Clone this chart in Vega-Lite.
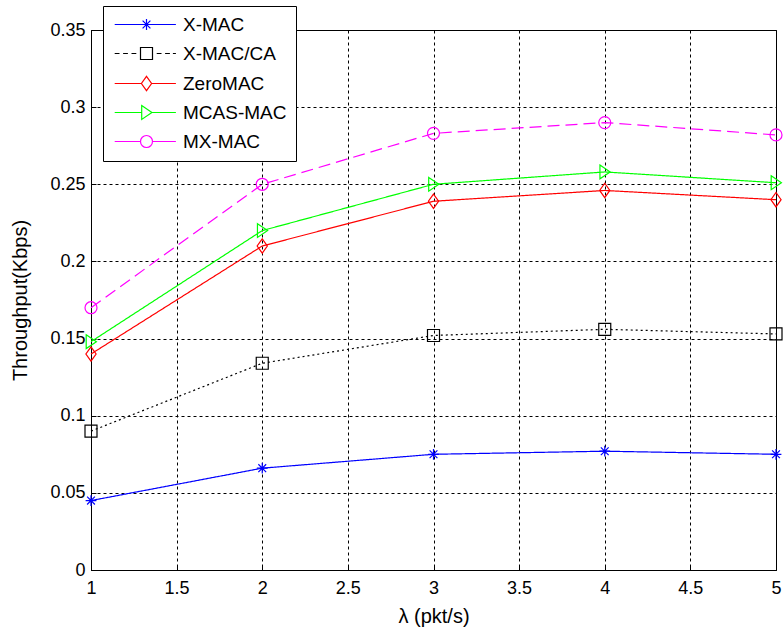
{
  "$schema": "https://vega.github.io/schema/vega-lite/v6.json",
  "width": 685,
  "height": 540,
  "autosize": {"type": "none"},
  "padding": {"left": 91, "top": 30, "right": 8, "bottom": 63},
  "background": "white",
  "config": {
    "font": "Liberation Sans",
    "view": {"stroke": "black", "strokeWidth": 1},
    "axis": {
      "domainColor": "black",
      "tickColor": "black",
      "gridColor": "black",
      "gridDash": [3, 3],
      "gridOpacity": 1,
      "gridWidth": 1,
      "labelFont": "Liberation Sans",
      "labelFontSize": 18,
      "labelColor": "black",
      "titleFont": "Liberation Sans",
      "titleFontSize": 20,
      "titleFontWeight": "normal",
      "titleColor": "black",
      "tickSize": -5
    }
  },
  "data": {
    "values": [
      {"series": "X-MAC", "x": 1, "y": 0.045},
      {"series": "X-MAC", "x": 2, "y": 0.066},
      {"series": "X-MAC", "x": 3, "y": 0.075},
      {"series": "X-MAC", "x": 4, "y": 0.077},
      {"series": "X-MAC", "x": 5, "y": 0.075},
      {"series": "X-MAC/CA", "x": 1, "y": 0.090},
      {"series": "X-MAC/CA", "x": 2, "y": 0.134},
      {"series": "X-MAC/CA", "x": 3, "y": 0.152},
      {"series": "X-MAC/CA", "x": 4, "y": 0.156},
      {"series": "X-MAC/CA", "x": 5, "y": 0.153},
      {"series": "ZeroMAC", "x": 1, "y": 0.140},
      {"series": "ZeroMAC", "x": 2, "y": 0.210},
      {"series": "ZeroMAC", "x": 3, "y": 0.239},
      {"series": "ZeroMAC", "x": 4, "y": 0.246},
      {"series": "ZeroMAC", "x": 5, "y": 0.240},
      {"series": "MCAS-MAC", "x": 1, "y": 0.148},
      {"series": "MCAS-MAC", "x": 2, "y": 0.220},
      {"series": "MCAS-MAC", "x": 3, "y": 0.250},
      {"series": "MCAS-MAC", "x": 4, "y": 0.258},
      {"series": "MCAS-MAC", "x": 5, "y": 0.251},
      {"series": "MX-MAC", "x": 1, "y": 0.170},
      {"series": "MX-MAC", "x": 2, "y": 0.250},
      {"series": "MX-MAC", "x": 3, "y": 0.283},
      {"series": "MX-MAC", "x": 4, "y": 0.290},
      {"series": "MX-MAC", "x": 5, "y": 0.282}
    ]
  },
  "encoding": {
    "x": {
      "field": "x", "type": "quantitative",
      "scale": {"domain": [1, 5], "nice": false, "zero": false},
      "axis": {"values": [1, 1.5, 2, 2.5, 3, 3.5, 4, 4.5, 5], "format": "~g", "title": "λ (pkt/s)", "labelPadding": 14, "titlePadding": 9, "labelFlush": false}
    },
    "y": {
      "field": "y", "type": "quantitative",
      "scale": {"domain": [0, 0.35], "nice": false},
      "axis": {"values": [0, 0.05, 0.1, 0.15, 0.2, 0.25, 0.3, 0.35], "format": "~g", "title": "Throughput(Kbps)", "labelPadding": 11, "titlePadding": 19, "labelFlush": false}
    }
  },
  "layer": [
    {
      "mark": {"type": "line", "strokeWidth": 1.2},
      "encoding": {
        "color": {
          "field": "series", "type": "nominal",
          "scale": {"domain": ["X-MAC", "X-MAC/CA", "ZeroMAC", "MCAS-MAC", "MX-MAC"], "range": ["#0000FF", "#000000", "#FF0000", "#00FF00", "#FF00FF"]},
          "legend": null
        },
        "strokeDash": {
          "field": "series", "type": "nominal",
          "scale": {"domain": ["X-MAC", "X-MAC/CA", "ZeroMAC", "MCAS-MAC", "MX-MAC"], "range": [[1, 0], [2, 3], [1, 0], [1, 0], [12, 6]]},
          "legend": null
        }
      }
    },
    {
      "mark": {"type": "point", "filled": false, "size": 144, "strokeWidth": 1.2, "opacity": 1},
      "encoding": {
        "color": {
          "field": "series", "type": "nominal",
          "scale": {"domain": ["X-MAC", "X-MAC/CA", "ZeroMAC", "MCAS-MAC", "MX-MAC"], "range": ["#0000FF", "#000000", "#FF0000", "#00FF00", "#FF00FF"]},
          "legend": null
        },
        "shape": {
          "field": "series", "type": "nominal",
          "scale": {"domain": ["X-MAC", "X-MAC/CA", "ZeroMAC", "MCAS-MAC", "MX-MAC"], "range": [
            "M-0.9,0L0.9,0M0,-0.9L0,0.9M-0.65,-0.65L0.65,0.65M-0.65,0.65L0.65,-0.65",
            "M-1,-1H1V1H-1Z",
            "M0,-1.2L0.85,0L0,1.2L-0.85,0Z",
            "M-0.8,-1.15L0.9,0L-0.8,1.15Z",
            "M1,0A1,1,0,1,1,-1,0A1,1,0,1,1,1,0Z"
          ]},
          "legend": null
        }
      }
    },
    {
      "mark": {"type": "point", "filled": false, "size": 144, "strokeWidth": 1.2, "opacity": 0},
      "encoding": {
        "color": {
          "field": "series", "type": "nominal",
          "scale": {"domain": ["X-MAC", "X-MAC/CA", "ZeroMAC", "MCAS-MAC", "MX-MAC"], "range": ["#0000FF", "#000000", "#FF0000", "#00FF00", "#FF00FF"]},
          "legend": {
            "title": null,
            "orient": "none",
            "legendX": 12,
            "legendY": -24,
            "fillColor": "white",
            "strokeColor": "black",
            "padding": 9,
            "symbolOpacity": 1,
            "symbolSize": 144,
            "symbolStrokeWidth": 1.2,
            "symbolOffset": 25,
            "labelOffset": 27,
            "labelFont": "Liberation Sans",
            "labelFontSize": 19,
            "labelColor": "black",
            "rowPadding": 9
          }
        },
        "shape": {
          "field": "series", "type": "nominal",
          "scale": {"domain": ["X-MAC", "X-MAC/CA", "ZeroMAC", "MCAS-MAC", "MX-MAC"], "range": [
            "M-5.3,0H4.9M0,-0.9V0.9M-0.65,-0.65L0.65,0.65M-0.65,0.65L0.65,-0.65",
            "M-5.3,0H-4.5M-3.9,0H-3.1M-2.5,0H-1.7M-1,-1H1V1H-1ZM1.7,0H2.5M3.1,0H3.9M4.4,0H4.9",
            "M-5.3,0H-0.85M0.85,0H4.9M0,-1.2L0.85,0L0,1.2L-0.85,0Z",
            "M-5.3,0H-0.8M0.9,0H4.9M-0.8,-1.15L0.9,0L-0.8,1.15Z",
            "M-5.3,0H-1M1,0H4.9M1,0A1,1,0,1,1,-1,0A1,1,0,1,1,1,0Z"
          ]},
          "legend": {
            "title": null,
            "orient": "none",
            "legendX": 12,
            "legendY": -24,
            "fillColor": "white",
            "strokeColor": "black",
            "padding": 9,
            "symbolOpacity": 1,
            "symbolSize": 144,
            "symbolStrokeWidth": 1.2,
            "symbolOffset": 25,
            "labelOffset": 27,
            "labelFont": "Liberation Sans",
            "labelFontSize": 19,
            "labelColor": "black",
            "rowPadding": 9
          }
        }
      }
    }
  ],
  "resolve": {"scale": {"color": "independent", "shape": "independent", "strokeDash": "independent"}}
}
